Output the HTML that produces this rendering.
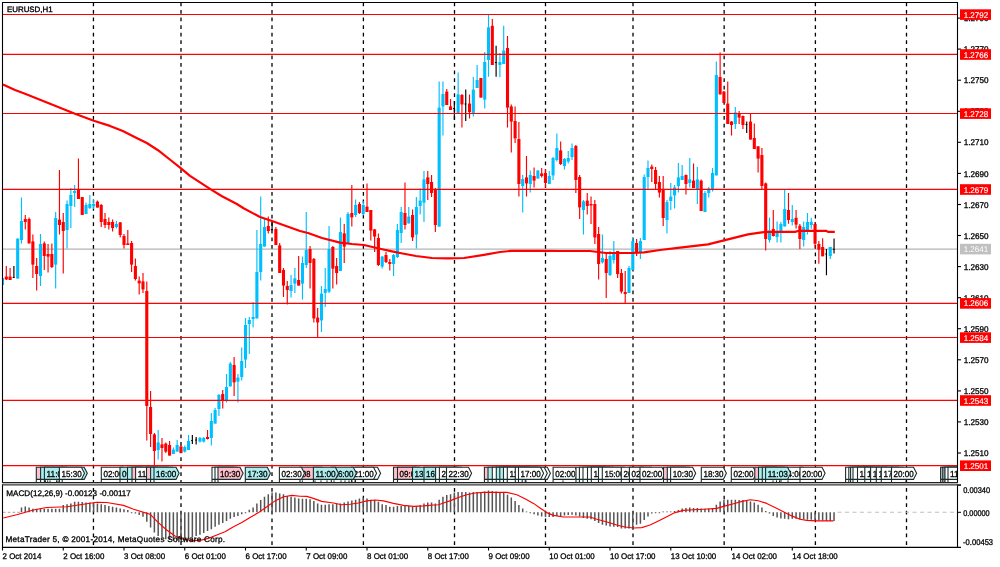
<!DOCTYPE html><html><head><meta charset="utf-8"><title>EURUSD,H1</title>
<style>html,body{margin:0;padding:0;background:#fff;}body{width:1000px;height:567px;overflow:hidden;font-family:"Liberation Sans",sans-serif;}svg{display:block;}text{font-family:"Liberation Sans",sans-serif;text-rendering:geometricPrecision;}</style></head><body>
<svg width="1000" height="567" viewBox="0 0 1000 567">
<rect x="0" y="0" width="1000" height="567" fill="#fff"/>
<filter id="nf" x="0" y="0" width="1000" height="567" filterUnits="userSpaceOnUse"><feOffset dx="0" dy="0"/></filter>
<g filter="url(#nf)">
<defs><clipPath id="cm"><rect x="3" y="3" width="954" height="479.3"/></clipPath><clipPath id="cs"><rect x="3" y="485.4" width="954" height="61.4"/></clipPath></defs>
<path d="M3 249.1H957" stroke="#b4b4b4" stroke-width="1.05"/>
<g stroke="#000" stroke-width="1.3" stroke-dasharray="3.75 3.83" fill="none">
<path clip-path="url(#cm)" d="M93.45 2.4V482"/>
<path d="M93.45 488.1V547"/>
<path clip-path="url(#cm)" d="M181 2.4V482"/>
<path d="M181 488.1V547"/>
<path clip-path="url(#cm)" d="M272 2.4V482"/>
<path d="M272 488.1V547"/>
<path clip-path="url(#cm)" d="M363.4 2.4V482"/>
<path d="M363.4 488.1V547"/>
<path clip-path="url(#cm)" d="M454.5 2.4V482"/>
<path d="M454.5 488.1V547"/>
<path clip-path="url(#cm)" d="M545.5 2.4V482"/>
<path d="M545.5 488.1V547"/>
<path clip-path="url(#cm)" d="M633 2.4V482"/>
<path d="M633 488.1V547"/>
<path clip-path="url(#cm)" d="M724.15 2.4V482"/>
<path d="M724.15 488.1V547"/>
<path clip-path="url(#cm)" d="M815.4 2.4V482"/>
<path d="M815.4 488.1V547"/>
<path clip-path="url(#cm)" d="M906.5 2.4V482"/>
<path d="M906.5 488.1V547"/>
</g>
<g clip-path="url(#cm)">
<path d="M2.5 278V285" stroke="#00bfff" stroke-width="1.15"/>
<rect x="0.95" y="278" width="3.1" height="7" fill="#00bfff"/>
<path d="M6.3 266V280" stroke="#ff0000" stroke-width="1.15"/>
<rect x="4.75" y="276.6" width="3.1" height="2.8" fill="#ff0000"/>
<path d="M10.09 268V280" stroke="#ff0000" stroke-width="1.15"/>
<rect x="8.54" y="276.6" width="3.1" height="3.4" fill="#ff0000"/>
<path d="M13.89 266V278" stroke="#000000" stroke-width="1.15"/>
<path d="M12.69 277.5H14.49" stroke="#000000" stroke-width="1"/>
<path d="M17.69 238.6V278.6" stroke="#00bfff" stroke-width="1.15"/>
<rect x="16.14" y="238.6" width="3.1" height="40" fill="#00bfff"/>
<path d="M21.48 197.6V243.4" stroke="#00bfff" stroke-width="1.15"/>
<rect x="19.93" y="221" width="3.1" height="19" fill="#00bfff"/>
<path d="M25.28 215V229.4" stroke="#ff0000" stroke-width="1.15"/>
<rect x="23.73" y="219" width="3.1" height="3" fill="#ff0000"/>
<path d="M29.08 217.6V243.4" stroke="#ff0000" stroke-width="1.15"/>
<rect x="27.53" y="219" width="3.1" height="24.4" fill="#ff0000"/>
<path d="M32.88 234.6V278" stroke="#ff0000" stroke-width="1.15"/>
<rect x="31.33" y="241.4" width="3.1" height="23.2" fill="#ff0000"/>
<path d="M36.67 258V290.6" stroke="#ff0000" stroke-width="1.15"/>
<rect x="35.12" y="266" width="3.1" height="8" fill="#ff0000"/>
<path d="M40.47 234V286" stroke="#00bfff" stroke-width="1.15"/>
<rect x="38.92" y="244" width="3.1" height="32" fill="#00bfff"/>
<path d="M44.27 241.4V270" stroke="#ff0000" stroke-width="1.15"/>
<rect x="42.72" y="243.4" width="3.1" height="12.6" fill="#ff0000"/>
<path d="M48.06 244V272.6" stroke="#ff0000" stroke-width="1.15"/>
<rect x="46.51" y="254" width="3.1" height="2.6" fill="#ff0000"/>
<path d="M51.86 243.4V268" stroke="#ff0000" stroke-width="1.15"/>
<rect x="50.31" y="254" width="3.1" height="13" fill="#ff0000"/>
<path d="M55.66 212V288.6" stroke="#00bfff" stroke-width="1.15"/>
<rect x="54.11" y="218" width="3.1" height="46.6" fill="#00bfff"/>
<path d="M59.46 170V234.6" stroke="#ff0000" stroke-width="1.15"/>
<rect x="57.91" y="219.6" width="3.1" height="5.4" fill="#ff0000"/>
<path d="M63.25 213V273.4" stroke="#ff0000" stroke-width="1.15"/>
<rect x="61.7" y="222" width="3.1" height="9" fill="#ff0000"/>
<path d="M67.05 200.4V248.6" stroke="#00bfff" stroke-width="1.15"/>
<rect x="65.5" y="204" width="3.1" height="26" fill="#00bfff"/>
<path d="M70.85 188V228" stroke="#00bfff" stroke-width="1.15"/>
<rect x="69.3" y="195" width="3.1" height="11" fill="#00bfff"/>
<path d="M74.64 185V207" stroke="#00bfff" stroke-width="1.15"/>
<rect x="73.09" y="191" width="3.1" height="2" fill="#00bfff"/>
<path d="M78.44 158.4V199" stroke="#ff0000" stroke-width="1.15"/>
<rect x="76.89" y="190" width="3.1" height="9" fill="#ff0000"/>
<path d="M82.24 197V215" stroke="#ff0000" stroke-width="1.15"/>
<rect x="80.69" y="197" width="3.1" height="18" fill="#ff0000"/>
<path d="M86.03 202.4V214" stroke="#00bfff" stroke-width="1.15"/>
<rect x="84.48" y="205" width="3.1" height="9" fill="#00bfff"/>
<path d="M89.83 195V209" stroke="#00bfff" stroke-width="1.15"/>
<rect x="88.28" y="204" width="3.1" height="4" fill="#00bfff"/>
<path d="M93.63 200V209" stroke="#00bfff" stroke-width="1.15"/>
<rect x="92.08" y="204" width="3.1" height="2.4" fill="#00bfff"/>
<path d="M97.42 200.4V207.6" stroke="#ff0000" stroke-width="1.15"/>
<rect x="95.88" y="201.6" width="3.1" height="6" fill="#ff0000"/>
<path d="M101.22 204V227" stroke="#ff0000" stroke-width="1.15"/>
<rect x="99.67" y="205" width="3.1" height="17" fill="#ff0000"/>
<path d="M105.02 213V228" stroke="#ff0000" stroke-width="1.15"/>
<rect x="103.47" y="219" width="3.1" height="6" fill="#ff0000"/>
<path d="M108.82 217.6V229.6" stroke="#ff0000" stroke-width="1.15"/>
<rect x="107.27" y="222" width="3.1" height="3" fill="#ff0000"/>
<path d="M112.61 219.6V231.6" stroke="#ff0000" stroke-width="1.15"/>
<rect x="111.06" y="222" width="3.1" height="6" fill="#ff0000"/>
<path d="M116.41 221V228.4" stroke="#00bfff" stroke-width="1.15"/>
<rect x="114.86" y="224" width="3.1" height="3" fill="#00bfff"/>
<path d="M120.21 222V237.4" stroke="#ff0000" stroke-width="1.15"/>
<rect x="118.66" y="222.4" width="3.1" height="12.6" fill="#ff0000"/>
<path d="M124 234V248.6" stroke="#ff0000" stroke-width="1.15"/>
<rect x="122.45" y="236" width="3.1" height="9" fill="#ff0000"/>
<path d="M127.8 230V245" stroke="#ff0000" stroke-width="1.15"/>
<rect x="126.25" y="243.4" width="3.1" height="1.6" fill="#ff0000"/>
<path d="M131.6 241V272" stroke="#ff0000" stroke-width="1.15"/>
<rect x="130.05" y="243" width="3.1" height="21.6" fill="#ff0000"/>
<path d="M135.4 258.6V280.6" stroke="#ff0000" stroke-width="1.15"/>
<rect x="133.84" y="266" width="3.1" height="13" fill="#ff0000"/>
<path d="M139.19 276.6V294.6" stroke="#ff0000" stroke-width="1.15"/>
<rect x="137.64" y="280.6" width="3.1" height="2.8" fill="#ff0000"/>
<path d="M142.99 273V293" stroke="#ff0000" stroke-width="1.15"/>
<rect x="141.44" y="281.4" width="3.1" height="8" fill="#ff0000"/>
<path d="M146.79 281.4V440.4" stroke="#ff0000" stroke-width="1.15"/>
<rect x="145.24" y="291" width="3.1" height="115" fill="#ff0000"/>
<path d="M150.58 391V447" stroke="#ff0000" stroke-width="1.15"/>
<rect x="149.03" y="407" width="3.1" height="27" fill="#ff0000"/>
<path d="M154.38 433V465.6" stroke="#ff0000" stroke-width="1.15"/>
<rect x="152.83" y="434.4" width="3.1" height="16.6" fill="#ff0000"/>
<path d="M158.18 430V459.6" stroke="#00bfff" stroke-width="1.15"/>
<rect x="156.63" y="442.4" width="3.1" height="7.6" fill="#00bfff"/>
<path d="M161.97 438V461.6" stroke="#ff0000" stroke-width="1.15"/>
<rect x="160.42" y="444.4" width="3.1" height="3.6" fill="#ff0000"/>
<path d="M165.77 442.4V453" stroke="#ff0000" stroke-width="1.15"/>
<rect x="164.22" y="443.6" width="3.1" height="8" fill="#ff0000"/>
<path d="M169.57 441V455.6" stroke="#ff0000" stroke-width="1.15"/>
<rect x="168.02" y="445" width="3.1" height="10.6" fill="#ff0000"/>
<path d="M173.37 447.6V454" stroke="#00bfff" stroke-width="1.15"/>
<rect x="171.81" y="449.6" width="3.1" height="4.4" fill="#00bfff"/>
<path d="M177.16 440V451.6" stroke="#00bfff" stroke-width="1.15"/>
<rect x="175.61" y="445" width="3.1" height="6.6" fill="#00bfff"/>
<path d="M180.96 444.4V453" stroke="#ff0000" stroke-width="1.15"/>
<rect x="179.41" y="446.4" width="3.1" height="6.6" fill="#ff0000"/>
<path d="M184.76 445.6V452.4" stroke="#00bfff" stroke-width="1.15"/>
<rect x="183.21" y="447" width="3.1" height="4.6" fill="#00bfff"/>
<path d="M188.55 435V450" stroke="#00bfff" stroke-width="1.15"/>
<rect x="187" y="441" width="3.1" height="9" fill="#00bfff"/>
<path d="M192.35 435V444" stroke="#000000" stroke-width="1.15"/>
<path d="M191.15 440.5H192.95" stroke="#000000" stroke-width="1"/>
<path d="M196.15 437V444.4" stroke="#000000" stroke-width="1.15"/>
<path d="M194.95 440H196.75" stroke="#000000" stroke-width="1"/>
<path d="M199.94 437V442.4" stroke="#00bfff" stroke-width="1.15"/>
<rect x="198.39" y="438" width="3.1" height="3.6" fill="#00bfff"/>
<path d="M203.74 437V442.4" stroke="#00bfff" stroke-width="1.15"/>
<rect x="202.19" y="438" width="3.1" height="3.6" fill="#00bfff"/>
<path d="M207.54 430V439.6" stroke="#ff0000" stroke-width="1.15"/>
<rect x="205.99" y="437" width="3.1" height="2" fill="#ff0000"/>
<path d="M211.34 413V445.6" stroke="#00bfff" stroke-width="1.15"/>
<rect x="209.78" y="421" width="3.1" height="17" fill="#00bfff"/>
<path d="M215.13 408V423.6" stroke="#00bfff" stroke-width="1.15"/>
<rect x="213.58" y="410" width="3.1" height="13.6" fill="#00bfff"/>
<path d="M218.93 394V416" stroke="#00bfff" stroke-width="1.15"/>
<rect x="217.38" y="395" width="3.1" height="14" fill="#00bfff"/>
<path d="M222.73 390V408.4" stroke="#ff0000" stroke-width="1.15"/>
<rect x="221.18" y="394" width="3.1" height="6.4" fill="#ff0000"/>
<path d="M226.52 374V402.4" stroke="#00bfff" stroke-width="1.15"/>
<rect x="224.97" y="387" width="3.1" height="14" fill="#00bfff"/>
<path d="M230.32 362V386.4" stroke="#00bfff" stroke-width="1.15"/>
<rect x="228.77" y="363.6" width="3.1" height="22.8" fill="#00bfff"/>
<path d="M234.12 357V396" stroke="#ff0000" stroke-width="1.15"/>
<rect x="232.57" y="365" width="3.1" height="17.4" fill="#ff0000"/>
<path d="M237.91 374V402.4" stroke="#00bfff" stroke-width="1.15"/>
<rect x="236.36" y="377.6" width="3.1" height="4" fill="#00bfff"/>
<path d="M241.71 347.6V380.6" stroke="#00bfff" stroke-width="1.15"/>
<rect x="240.16" y="361" width="3.1" height="16" fill="#00bfff"/>
<path d="M245.51 318V368" stroke="#00bfff" stroke-width="1.15"/>
<rect x="243.96" y="325" width="3.1" height="34.6" fill="#00bfff"/>
<path d="M249.31 317V354" stroke="#00bfff" stroke-width="1.15"/>
<rect x="247.75" y="320" width="3.1" height="4" fill="#00bfff"/>
<path d="M253.1 302V327.6" stroke="#00bfff" stroke-width="1.15"/>
<rect x="251.55" y="317" width="3.1" height="2" fill="#00bfff"/>
<path d="M256.9 230V318.4" stroke="#00bfff" stroke-width="1.15"/>
<rect x="255.35" y="272" width="3.1" height="46.4" fill="#00bfff"/>
<path d="M260.7 196.6V280.6" stroke="#00bfff" stroke-width="1.15"/>
<rect x="259.15" y="244" width="3.1" height="28" fill="#00bfff"/>
<path d="M264.49 218V246.6" stroke="#00bfff" stroke-width="1.15"/>
<rect x="262.94" y="227" width="3.1" height="19.6" fill="#00bfff"/>
<path d="M268.29 216.6V233.4" stroke="#ff0000" stroke-width="1.15"/>
<rect x="266.74" y="226" width="3.1" height="5" fill="#ff0000"/>
<path d="M272.09 222V230.5" stroke="#000000" stroke-width="1.15"/>
<path d="M270.89 229.5H272.69" stroke="#000000" stroke-width="1"/>
<path d="M275.88 227V245" stroke="#ff0000" stroke-width="1.15"/>
<rect x="274.33" y="229" width="3.1" height="16" fill="#ff0000"/>
<path d="M279.68 243V273" stroke="#ff0000" stroke-width="1.15"/>
<rect x="278.13" y="245.4" width="3.1" height="27.6" fill="#ff0000"/>
<path d="M283.48 268V297" stroke="#ff0000" stroke-width="1.15"/>
<rect x="281.93" y="270" width="3.1" height="15.6" fill="#ff0000"/>
<path d="M287.28 281V304.4" stroke="#ff0000" stroke-width="1.15"/>
<rect x="285.73" y="286" width="3.1" height="4" fill="#ff0000"/>
<path d="M291.07 275V297.6" stroke="#00bfff" stroke-width="1.15"/>
<rect x="289.52" y="285" width="3.1" height="6" fill="#00bfff"/>
<path d="M294.87 268V293" stroke="#00bfff" stroke-width="1.15"/>
<rect x="293.32" y="278.4" width="3.1" height="5.2" fill="#00bfff"/>
<path d="M298.67 256V285.6" stroke="#ff0000" stroke-width="1.15"/>
<rect x="297.12" y="280" width="3.1" height="5.6" fill="#ff0000"/>
<path d="M302.46 256.6V299.6" stroke="#00bfff" stroke-width="1.15"/>
<rect x="300.91" y="263" width="3.1" height="20.6" fill="#00bfff"/>
<path d="M306.26 212V268" stroke="#00bfff" stroke-width="1.15"/>
<rect x="304.71" y="250" width="3.1" height="15" fill="#00bfff"/>
<path d="M310.06 246V288.4" stroke="#ff0000" stroke-width="1.15"/>
<rect x="308.51" y="249" width="3.1" height="14" fill="#ff0000"/>
<path d="M313.85 258V322.4" stroke="#ff0000" stroke-width="1.15"/>
<rect x="312.3" y="259" width="3.1" height="59.4" fill="#ff0000"/>
<path d="M317.65 308V337.6" stroke="#ff0000" stroke-width="1.15"/>
<rect x="316.1" y="317.6" width="3.1" height="4.8" fill="#ff0000"/>
<path d="M321.45 286V332" stroke="#00bfff" stroke-width="1.15"/>
<rect x="319.9" y="293.6" width="3.1" height="26.8" fill="#00bfff"/>
<path d="M325.25 268V307" stroke="#00bfff" stroke-width="1.15"/>
<rect x="323.69" y="289" width="3.1" height="4" fill="#00bfff"/>
<path d="M329.04 226V293" stroke="#00bfff" stroke-width="1.15"/>
<rect x="327.49" y="249" width="3.1" height="42.6" fill="#00bfff"/>
<path d="M332.84 246V288.4" stroke="#ff0000" stroke-width="1.15"/>
<rect x="331.29" y="247" width="3.1" height="21.6" fill="#ff0000"/>
<path d="M336.64 258V284.6" stroke="#ff0000" stroke-width="1.15"/>
<rect x="335.09" y="266" width="3.1" height="7" fill="#ff0000"/>
<path d="M340.43 217.4V271" stroke="#00bfff" stroke-width="1.15"/>
<rect x="338.88" y="232" width="3.1" height="39" fill="#00bfff"/>
<path d="M344.23 224V263" stroke="#ff0000" stroke-width="1.15"/>
<rect x="342.68" y="233.4" width="3.1" height="13.2" fill="#ff0000"/>
<path d="M348.03 212V243" stroke="#00bfff" stroke-width="1.15"/>
<rect x="346.48" y="214" width="3.1" height="29" fill="#00bfff"/>
<path d="M351.82 185V226.6" stroke="#ff0000" stroke-width="1.15"/>
<rect x="350.27" y="213" width="3.1" height="4.4" fill="#ff0000"/>
<path d="M355.62 199.4V217" stroke="#00bfff" stroke-width="1.15"/>
<rect x="354.07" y="205" width="3.1" height="10" fill="#00bfff"/>
<path d="M359.42 202V214" stroke="#ff0000" stroke-width="1.15"/>
<rect x="357.87" y="204" width="3.1" height="9" fill="#ff0000"/>
<path d="M363.22 201V215.5" stroke="#00bfff" stroke-width="1.15"/>
<rect x="361.67" y="205" width="3.1" height="9" fill="#00bfff"/>
<path d="M367.01 183.4V212" stroke="#ff0000" stroke-width="1.15"/>
<rect x="365.46" y="206.6" width="3.1" height="5.4" fill="#ff0000"/>
<path d="M370.81 210V240.6" stroke="#ff0000" stroke-width="1.15"/>
<rect x="369.26" y="210" width="3.1" height="20.6" fill="#ff0000"/>
<path d="M374.61 229V252" stroke="#ff0000" stroke-width="1.15"/>
<rect x="373.06" y="229.4" width="3.1" height="7.2" fill="#ff0000"/>
<path d="M378.4 233.4V266" stroke="#ff0000" stroke-width="1.15"/>
<rect x="376.85" y="238" width="3.1" height="27" fill="#ff0000"/>
<path d="M382.2 256V268.6" stroke="#00bfff" stroke-width="1.15"/>
<rect x="380.65" y="256.6" width="3.1" height="10" fill="#00bfff"/>
<path d="M386 252V263" stroke="#ff0000" stroke-width="1.15"/>
<rect x="384.45" y="255" width="3.1" height="7" fill="#ff0000"/>
<path d="M389.79 259V270.6" stroke="#ff0000" stroke-width="1.15"/>
<rect x="388.24" y="262" width="3.1" height="2" fill="#ff0000"/>
<path d="M393.59 254V276" stroke="#00bfff" stroke-width="1.15"/>
<rect x="392.04" y="255" width="3.1" height="9" fill="#00bfff"/>
<path d="M397.39 224V258" stroke="#00bfff" stroke-width="1.15"/>
<rect x="395.84" y="230" width="3.1" height="27" fill="#00bfff"/>
<path d="M401.19 207V243" stroke="#00bfff" stroke-width="1.15"/>
<rect x="399.63" y="212" width="3.1" height="21" fill="#00bfff"/>
<path d="M404.98 182.6V229.4" stroke="#ff0000" stroke-width="1.15"/>
<rect x="403.43" y="213" width="3.1" height="12" fill="#ff0000"/>
<path d="M408.78 207V223.4" stroke="#00bfff" stroke-width="1.15"/>
<rect x="407.23" y="216.6" width="3.1" height="6.8" fill="#00bfff"/>
<path d="M412.58 209.4V241" stroke="#ff0000" stroke-width="1.15"/>
<rect x="411.03" y="215" width="3.1" height="22.4" fill="#ff0000"/>
<path d="M416.37 197V248.6" stroke="#00bfff" stroke-width="1.15"/>
<rect x="414.82" y="207" width="3.1" height="27.6" fill="#00bfff"/>
<path d="M420.17 188.6V214.6" stroke="#00bfff" stroke-width="1.15"/>
<rect x="418.62" y="200.6" width="3.1" height="5.4" fill="#00bfff"/>
<path d="M423.97 171V222" stroke="#00bfff" stroke-width="1.15"/>
<rect x="422.42" y="179.4" width="3.1" height="23.2" fill="#00bfff"/>
<path d="M427.76 171V200" stroke="#ff0000" stroke-width="1.15"/>
<rect x="426.21" y="177.4" width="3.1" height="6.6" fill="#ff0000"/>
<path d="M431.56 175V197" stroke="#ff0000" stroke-width="1.15"/>
<rect x="430.01" y="182" width="3.1" height="11" fill="#ff0000"/>
<path d="M435.36 188V232" stroke="#ff0000" stroke-width="1.15"/>
<rect x="433.81" y="189" width="3.1" height="36" fill="#ff0000"/>
<path d="M439.16 81.6V226.6" stroke="#00bfff" stroke-width="1.15"/>
<rect x="437.61" y="107.6" width="3.1" height="119" fill="#00bfff"/>
<path d="M442.95 81.6V135.6" stroke="#00bfff" stroke-width="1.15"/>
<rect x="441.4" y="94" width="3.1" height="12.4" fill="#00bfff"/>
<path d="M446.75 89V105" stroke="#ff0000" stroke-width="1.15"/>
<rect x="445.2" y="91.6" width="3.1" height="13.4" fill="#ff0000"/>
<path d="M450.55 99V110" stroke="#ff0000" stroke-width="1.15"/>
<rect x="449" y="106.4" width="3.1" height="3.6" fill="#ff0000"/>
<path d="M454.34 101V120" stroke="#000000" stroke-width="1.15"/>
<path d="M453.14 108.5H454.94" stroke="#000000" stroke-width="1"/>
<path d="M458.14 72.4V113.6" stroke="#00bfff" stroke-width="1.15"/>
<rect x="456.59" y="94.4" width="3.1" height="19.2" fill="#00bfff"/>
<path d="M461.94 94V127.6" stroke="#ff0000" stroke-width="1.15"/>
<rect x="460.39" y="95" width="3.1" height="9.4" fill="#ff0000"/>
<path d="M465.73 89.6V121" stroke="#000000" stroke-width="1.15"/>
<path d="M464.53 104H466.33" stroke="#000000" stroke-width="1"/>
<path d="M469.53 94.4V118.4" stroke="#ff0000" stroke-width="1.15"/>
<rect x="467.98" y="103.6" width="3.1" height="8.4" fill="#ff0000"/>
<path d="M473.33 77V116.4" stroke="#00bfff" stroke-width="1.15"/>
<rect x="471.78" y="89.6" width="3.1" height="24" fill="#00bfff"/>
<path d="M477.12 65V88" stroke="#00bfff" stroke-width="1.15"/>
<rect x="475.57" y="80" width="3.1" height="8" fill="#00bfff"/>
<path d="M480.92 78V97.6" stroke="#ff0000" stroke-width="1.15"/>
<rect x="479.37" y="78" width="3.1" height="19.6" fill="#ff0000"/>
<path d="M484.72 52V108.4" stroke="#00bfff" stroke-width="1.15"/>
<rect x="483.17" y="62" width="3.1" height="37.6" fill="#00bfff"/>
<path d="M488.52 15V76.7" stroke="#00bfff" stroke-width="1.15"/>
<rect x="486.97" y="27.4" width="3.1" height="32.6" fill="#00bfff"/>
<path d="M492.31 19V65" stroke="#ff0000" stroke-width="1.15"/>
<rect x="490.76" y="25.8" width="3.1" height="39.2" fill="#ff0000"/>
<path d="M496.11 45.8V76.7" stroke="#000000" stroke-width="1.15"/>
<path d="M494.91 62.5H496.71" stroke="#000000" stroke-width="1"/>
<path d="M499.91 53V77.3" stroke="#00bfff" stroke-width="1.15"/>
<rect x="498.36" y="62" width="3.1" height="3" fill="#00bfff"/>
<path d="M503.7 25.8V64" stroke="#00bfff" stroke-width="1.15"/>
<rect x="502.15" y="50.6" width="3.1" height="13.4" fill="#00bfff"/>
<path d="M507.5 36V127.6" stroke="#ff0000" stroke-width="1.15"/>
<rect x="505.95" y="48" width="3.1" height="59.6" fill="#ff0000"/>
<path d="M511.3 104.4V152.4" stroke="#ff0000" stroke-width="1.15"/>
<rect x="509.75" y="106.4" width="3.1" height="15.2" fill="#ff0000"/>
<path d="M515.1 106.4V143" stroke="#ff0000" stroke-width="1.15"/>
<rect x="513.55" y="121" width="3.1" height="17.4" fill="#ff0000"/>
<path d="M518.89 122V196.6" stroke="#ff0000" stroke-width="1.15"/>
<rect x="517.34" y="139" width="3.1" height="45" fill="#ff0000"/>
<path d="M522.69 175V212.6" stroke="#00bfff" stroke-width="1.15"/>
<rect x="521.14" y="179" width="3.1" height="7" fill="#00bfff"/>
<path d="M526.49 156V196.6" stroke="#ff0000" stroke-width="1.15"/>
<rect x="524.94" y="177.4" width="3.1" height="6" fill="#ff0000"/>
<path d="M530.28 170.6V192.6" stroke="#00bfff" stroke-width="1.15"/>
<rect x="528.73" y="175" width="3.1" height="9" fill="#00bfff"/>
<path d="M534.08 167.4V187.4" stroke="#ff0000" stroke-width="1.15"/>
<rect x="532.53" y="176" width="3.1" height="4.6" fill="#ff0000"/>
<path d="M537.88 170V178.6" stroke="#00bfff" stroke-width="1.15"/>
<rect x="536.33" y="170.6" width="3.1" height="8" fill="#00bfff"/>
<path d="M541.67 168V177.4" stroke="#ff0000" stroke-width="1.15"/>
<rect x="540.12" y="173.4" width="3.1" height="2.6" fill="#ff0000"/>
<path d="M545.47 169V187.4" stroke="#ff0000" stroke-width="1.15"/>
<rect x="543.92" y="173" width="3.1" height="10" fill="#ff0000"/>
<path d="M549.27 171V184" stroke="#00bfff" stroke-width="1.15"/>
<rect x="547.72" y="176" width="3.1" height="8" fill="#00bfff"/>
<path d="M553.07 157V180" stroke="#00bfff" stroke-width="1.15"/>
<rect x="551.52" y="158" width="3.1" height="17.4" fill="#00bfff"/>
<path d="M556.86 133.6V161.6" stroke="#00bfff" stroke-width="1.15"/>
<rect x="555.31" y="148" width="3.1" height="12" fill="#00bfff"/>
<path d="M560.66 141.6V165" stroke="#ff0000" stroke-width="1.15"/>
<rect x="559.11" y="150.4" width="3.1" height="13.6" fill="#ff0000"/>
<path d="M564.46 158V169.6" stroke="#00bfff" stroke-width="1.15"/>
<rect x="562.91" y="159" width="3.1" height="7" fill="#00bfff"/>
<path d="M568.25 151V163.6" stroke="#00bfff" stroke-width="1.15"/>
<rect x="566.7" y="158" width="3.1" height="3.6" fill="#00bfff"/>
<path d="M572.05 143.6V160" stroke="#00bfff" stroke-width="1.15"/>
<rect x="570.5" y="148" width="3.1" height="9" fill="#00bfff"/>
<path d="M575.85 145V193" stroke="#ff0000" stroke-width="1.15"/>
<rect x="574.3" y="146" width="3.1" height="34" fill="#ff0000"/>
<path d="M579.64 175V219" stroke="#ff0000" stroke-width="1.15"/>
<rect x="578.09" y="177" width="3.1" height="30.4" fill="#ff0000"/>
<path d="M583.44 200V234.6" stroke="#00bfff" stroke-width="1.15"/>
<rect x="581.89" y="201.4" width="3.1" height="8.6" fill="#00bfff"/>
<path d="M587.24 193V214.6" stroke="#ff0000" stroke-width="1.15"/>
<rect x="585.69" y="200.6" width="3.1" height="5.4" fill="#ff0000"/>
<path d="M591.03 196.6V224" stroke="#ff0000" stroke-width="1.15"/>
<rect x="589.49" y="204" width="3.1" height="1.4" fill="#ff0000"/>
<path d="M594.83 200V244" stroke="#ff0000" stroke-width="1.15"/>
<rect x="593.28" y="204" width="3.1" height="33.4" fill="#ff0000"/>
<path d="M598.63 227V279.6" stroke="#ff0000" stroke-width="1.15"/>
<rect x="597.08" y="234" width="3.1" height="30" fill="#ff0000"/>
<path d="M602.43 234.4V263.6" stroke="#00bfff" stroke-width="1.15"/>
<rect x="600.88" y="258" width="3.1" height="4.4" fill="#00bfff"/>
<path d="M606.22 253V298" stroke="#ff0000" stroke-width="1.15"/>
<rect x="604.67" y="259" width="3.1" height="14" fill="#ff0000"/>
<path d="M610.02 251V276" stroke="#00bfff" stroke-width="1.15"/>
<rect x="608.47" y="256" width="3.1" height="19" fill="#00bfff"/>
<path d="M613.82 241V263.6" stroke="#00bfff" stroke-width="1.15"/>
<rect x="612.27" y="252.4" width="3.1" height="7.6" fill="#00bfff"/>
<path d="M617.61 251V278" stroke="#ff0000" stroke-width="1.15"/>
<rect x="616.06" y="251" width="3.1" height="23" fill="#ff0000"/>
<path d="M621.41 269V293.6" stroke="#ff0000" stroke-width="1.15"/>
<rect x="619.86" y="273" width="3.1" height="18.6" fill="#ff0000"/>
<path d="M625.21 271V303.4" stroke="#ff0000" stroke-width="1.15"/>
<rect x="623.66" y="292" width="3.1" height="2" fill="#ff0000"/>
<path d="M629 266V293" stroke="#00bfff" stroke-width="1.15"/>
<rect x="627.46" y="268" width="3.1" height="25" fill="#00bfff"/>
<path d="M632.8 238V270" stroke="#00bfff" stroke-width="1.15"/>
<rect x="631.25" y="241" width="3.1" height="29" fill="#00bfff"/>
<path d="M636.6 239V256" stroke="#ff0000" stroke-width="1.15"/>
<rect x="635.05" y="243" width="3.1" height="9" fill="#ff0000"/>
<path d="M640.4 238V259" stroke="#00bfff" stroke-width="1.15"/>
<rect x="638.85" y="241" width="3.1" height="11" fill="#00bfff"/>
<path d="M644.19 174.6V240" stroke="#00bfff" stroke-width="1.15"/>
<rect x="642.64" y="177" width="3.1" height="63" fill="#00bfff"/>
<path d="M647.99 160.6V189" stroke="#00bfff" stroke-width="1.15"/>
<rect x="646.44" y="168" width="3.1" height="9" fill="#00bfff"/>
<path d="M651.79 164.6V182" stroke="#ff0000" stroke-width="1.15"/>
<rect x="650.24" y="166.6" width="3.1" height="2.4" fill="#ff0000"/>
<path d="M655.58 167V189" stroke="#ff0000" stroke-width="1.15"/>
<rect x="654.03" y="170" width="3.1" height="14" fill="#ff0000"/>
<path d="M659.38 176V197.4" stroke="#ff0000" stroke-width="1.15"/>
<rect x="657.83" y="182" width="3.1" height="10.6" fill="#ff0000"/>
<path d="M663.18 176V226" stroke="#ff0000" stroke-width="1.15"/>
<rect x="661.63" y="189.4" width="3.1" height="28.6" fill="#ff0000"/>
<path d="M666.98 200V233.4" stroke="#00bfff" stroke-width="1.15"/>
<rect x="665.43" y="202" width="3.1" height="18" fill="#00bfff"/>
<path d="M670.77 183V210" stroke="#00bfff" stroke-width="1.15"/>
<rect x="669.22" y="196.6" width="3.1" height="4.4" fill="#00bfff"/>
<path d="M674.57 185V208.6" stroke="#00bfff" stroke-width="1.15"/>
<rect x="673.02" y="187.4" width="3.1" height="8" fill="#00bfff"/>
<path d="M678.37 163V192.6" stroke="#00bfff" stroke-width="1.15"/>
<rect x="676.82" y="177.4" width="3.1" height="8.6" fill="#00bfff"/>
<path d="M682.16 165V180" stroke="#00bfff" stroke-width="1.15"/>
<rect x="680.61" y="176" width="3.1" height="4" fill="#00bfff"/>
<path d="M685.96 174.6V194.6" stroke="#ff0000" stroke-width="1.15"/>
<rect x="684.41" y="175" width="3.1" height="9" fill="#ff0000"/>
<path d="M689.76 158V187.4" stroke="#00bfff" stroke-width="1.15"/>
<rect x="688.21" y="179.4" width="3.1" height="3.6" fill="#00bfff"/>
<path d="M693.55 163.4V188" stroke="#ff0000" stroke-width="1.15"/>
<rect x="692" y="180.6" width="3.1" height="7.4" fill="#ff0000"/>
<path d="M697.35 167V204" stroke="#00bfff" stroke-width="1.15"/>
<rect x="695.8" y="179.4" width="3.1" height="9.6" fill="#00bfff"/>
<path d="M701.15 179.4V211" stroke="#ff0000" stroke-width="1.15"/>
<rect x="699.6" y="180.6" width="3.1" height="30.4" fill="#ff0000"/>
<path d="M704.95 191V212" stroke="#00bfff" stroke-width="1.15"/>
<rect x="703.4" y="193" width="3.1" height="19" fill="#00bfff"/>
<path d="M708.74 187V197.4" stroke="#00bfff" stroke-width="1.15"/>
<rect x="707.19" y="188.6" width="3.1" height="4.4" fill="#00bfff"/>
<path d="M712.54 168V191.4" stroke="#00bfff" stroke-width="1.15"/>
<rect x="710.99" y="173" width="3.1" height="17" fill="#00bfff"/>
<path d="M716.34 61.6V175.4" stroke="#00bfff" stroke-width="1.15"/>
<rect x="714.79" y="75" width="3.1" height="100.4" fill="#00bfff"/>
<path d="M720.13 52.4V94.4" stroke="#ff0000" stroke-width="1.15"/>
<rect x="718.58" y="77" width="3.1" height="17.4" fill="#ff0000"/>
<path d="M723.93 91V103" stroke="#ff0000" stroke-width="1.15"/>
<rect x="722.38" y="91.6" width="3.1" height="11.4" fill="#ff0000"/>
<path d="M727.73 81.6V124" stroke="#ff0000" stroke-width="1.15"/>
<rect x="726.18" y="103.6" width="3.1" height="20.4" fill="#ff0000"/>
<path d="M731.52 121V135.6" stroke="#ff0000" stroke-width="1.15"/>
<rect x="729.97" y="121.6" width="3.1" height="3.4" fill="#ff0000"/>
<path d="M735.32 107V129" stroke="#00bfff" stroke-width="1.15"/>
<rect x="733.77" y="112.4" width="3.1" height="11.6" fill="#00bfff"/>
<path d="M739.12 111V124" stroke="#ff0000" stroke-width="1.15"/>
<rect x="737.57" y="113" width="3.1" height="4.6" fill="#ff0000"/>
<path d="M742.92 115.6V129" stroke="#ff0000" stroke-width="1.15"/>
<rect x="741.37" y="116" width="3.1" height="9" fill="#ff0000"/>
<path d="M746.71 121.6V133" stroke="#000000" stroke-width="1.15"/>
<path d="M745.51 124.5H747.31" stroke="#000000" stroke-width="1"/>
<path d="M750.51 113.6V139.6" stroke="#ff0000" stroke-width="1.15"/>
<rect x="748.96" y="121.6" width="3.1" height="18" fill="#ff0000"/>
<path d="M754.31 123.6V149" stroke="#ff0000" stroke-width="1.15"/>
<rect x="752.76" y="138" width="3.1" height="11" fill="#ff0000"/>
<path d="M758.1 146V172.6" stroke="#ff0000" stroke-width="1.15"/>
<rect x="756.55" y="146.4" width="3.1" height="12.2" fill="#ff0000"/>
<path d="M761.9 148V189" stroke="#ff0000" stroke-width="1.15"/>
<rect x="760.35" y="155" width="3.1" height="31" fill="#ff0000"/>
<path d="M765.7 182.6V250.4" stroke="#ff0000" stroke-width="1.15"/>
<rect x="764.15" y="183.4" width="3.1" height="55.6" fill="#ff0000"/>
<path d="M769.49 217.4V242.6" stroke="#00bfff" stroke-width="1.15"/>
<rect x="767.94" y="230.6" width="3.1" height="9.4" fill="#00bfff"/>
<path d="M773.29 210V236.6" stroke="#ff0000" stroke-width="1.15"/>
<rect x="771.74" y="229" width="3.1" height="7" fill="#ff0000"/>
<path d="M777.09 221.4V242.6" stroke="#00bfff" stroke-width="1.15"/>
<rect x="775.54" y="231" width="3.1" height="6" fill="#00bfff"/>
<path d="M780.88 222V242.6" stroke="#00bfff" stroke-width="1.15"/>
<rect x="779.34" y="224" width="3.1" height="7.4" fill="#00bfff"/>
<path d="M784.68 189.4V226.4" stroke="#00bfff" stroke-width="1.15"/>
<rect x="783.13" y="209" width="3.1" height="17.4" fill="#00bfff"/>
<path d="M788.48 193V223.8" stroke="#ff0000" stroke-width="1.15"/>
<rect x="786.93" y="210" width="3.1" height="10" fill="#ff0000"/>
<path d="M792.28 205V225.4" stroke="#00bfff" stroke-width="1.15"/>
<rect x="790.73" y="219" width="3.1" height="3" fill="#00bfff"/>
<path d="M796.07 210V228.6" stroke="#ff0000" stroke-width="1.15"/>
<rect x="794.52" y="217.8" width="3.1" height="6.8" fill="#ff0000"/>
<path d="M799.87 224V249" stroke="#ff0000" stroke-width="1.15"/>
<rect x="798.32" y="225.8" width="3.1" height="13.2" fill="#ff0000"/>
<path d="M803.67 221.4V246.6" stroke="#00bfff" stroke-width="1.15"/>
<rect x="802.12" y="227" width="3.1" height="13" fill="#00bfff"/>
<path d="M807.46 213V234.6" stroke="#00bfff" stroke-width="1.15"/>
<rect x="805.91" y="222" width="3.1" height="8" fill="#00bfff"/>
<path d="M811.26 217.8V228.8" stroke="#00bfff" stroke-width="1.15"/>
<rect x="809.71" y="221.8" width="3.1" height="3.2" fill="#00bfff"/>
<path d="M815.06 222V248.6" stroke="#ff0000" stroke-width="1.15"/>
<rect x="813.51" y="224" width="3.1" height="19.8" fill="#ff0000"/>
<path d="M818.86 241V263.7" stroke="#ff0000" stroke-width="1.15"/>
<rect x="817.31" y="244" width="3.1" height="5.6" fill="#ff0000"/>
<path d="M822.65 238.2V256.3" stroke="#ff0000" stroke-width="1.15"/>
<rect x="821.1" y="247" width="3.1" height="9.3" fill="#ff0000"/>
<path d="M826.45 248.9V275.2" stroke="#000000" stroke-width="1.15"/>
<path d="M825.25 254H827.05" stroke="#000000" stroke-width="1"/>
<path d="M830.25 247V259" stroke="#00bfff" stroke-width="1.15"/>
<rect x="828.7" y="247" width="3.1" height="9" fill="#00bfff"/>
<path d="M834.04 238.5V253.6" stroke="#000000" stroke-width="1.15"/>
<path d="M832.84 249.3H834.64" stroke="#000000" stroke-width="1"/>
</g>
<g stroke="#ff0000" stroke-width="1.15">
<path d="M3 14.5H957"/>
<path d="M3 54.4H957"/>
<path d="M3 113.5H957"/>
<path d="M3 189.4H957"/>
<path d="M3 303.3H957"/>
<path d="M3 337.5H957"/>
<path d="M3 400.4H957"/>
<path d="M3 465.6H957"/>
</g>
<path clip-path="url(#cm)" d="M3 84.5 L15 90 L25 93.75 L37.5 98.75 L50 103.75 L62.5 108.75 L75 113.75 L93.75 120.75 L110 125.9 L122.8 131 L135.6 137.4 L146.8 143 L158 150.2 L169.2 159 L180.4 167.8 L190 175.8 L199.6 182.2 L210.8 189.4 L222 196.3 L236.4 203.8 L244 208.5 L260 217 L272 221 L286 226 L300 231 L308 233 L322 238 L340 242.6 L352 244 L364 245 L380 248.8 L392 251.4 L400 253 L416 256 L432 258 L448 258.3 L464 258 L484 254.8 L500 252 L512 250.8 L540 250.8 L560 251 L590 251 L606 253 L632 253 L644 252.4 L660 250 L680 247.6 L708 244.4 L724 240.4 L748 234.4 L760 232.6 L766 231.9 L795 231.9 L799 230.8 L826 230.8 L828 231.9 L834.8 231.9" fill="none" stroke="#ff0000" stroke-width="2.2" stroke-linejoin="round"/>
<g clip-path="url(#cm)" font-size="8.8">
<g stroke="#1c2c2c" stroke-width="1">
<path d="M302.3 480.3V482.5"/>
<path d="M45.5 480.3V482.5"/>
<path d="M47.7 480.3V482.5"/>
<path d="M50 480.3V482.5"/>
<path d="M56.5 480.3V482.5"/>
<path d="M58 480.3V482.5"/>
<path d="M315 480.3V482.5"/>
<path d="M321 480.3V482.5"/>
<path d="M327 480.3V482.5"/>
<path d="M334 480.3V482.5"/>
<path d="M341 480.3V482.5"/>
<path d="M345 480.3V482.5"/>
<path d="M349 480.3V482.5"/>
<path d="M352 480.3V482.5"/>
<path d="M355 480.3V482.5"/>
<path d="M363 480.3V482.5"/>
<path d="M456 480.3V482.5"/>
<path d="M526 480.3V482.5"/>
<path d="M563 480.3V482.5"/>
<path d="M632.5 480.3V482.5"/>
<path d="M773 480.3V482.5"/>
<path d="M776.5 480.3V482.5"/>
<path d="M779.5 480.3V482.5"/>
<path d="M788 480.3V482.5"/>
<path d="M906 480.3V482.5"/>
</g>
<path d="M36.3 482.3V467.3H58.3L61.4 473.35L58.3 479.4H36.3" fill="#ffc0cb" stroke="#1a2e2e" stroke-width="1.1" stroke-linejoin="miter"/>
<path d="M40.6 482.3V467.3H62.6L65.7 473.35L62.6 479.4H40.6" fill="#afeeee" stroke="#1a2e2e" stroke-width="1.1" stroke-linejoin="miter"/>
<path d="M44.4 482.3V467.3H66.4L69.5 473.35L66.4 479.4H44.4" fill="#afeeee" stroke="#1a2e2e" stroke-width="1.1" stroke-linejoin="miter"/>
<text x="46.5" y="476.6" fill="#000" stroke="#000" stroke-width="0.3" textLength="20.2" lengthAdjust="spacingAndGlyphs">11:00</text>
<path d="M62.2 482.3V467.3H84.2L87.3 473.35L84.2 479.4H62.2" fill="#afeeee" stroke="#1a2e2e" stroke-width="1.1" stroke-linejoin="miter"/>
<path d="M59.4 482.3V467.3H81.4L84.5 473.35L81.4 479.4H59.4" fill="#ffffff" stroke="#1a2e2e" stroke-width="1.1" stroke-linejoin="miter"/>
<text x="61.5" y="476.6" fill="#000" stroke="#000" stroke-width="0.3" textLength="20.2" lengthAdjust="spacingAndGlyphs">15:30</text>
<path d="M101.3 482.3V467.3H123.3L126.4 473.35L123.3 479.4H101.3" fill="#ffffff" stroke="#1a2e2e" stroke-width="1.1" stroke-linejoin="miter"/>
<text x="103.4" y="476.6" fill="#000" stroke="#000" stroke-width="0.3" textLength="20.2" lengthAdjust="spacingAndGlyphs">02:00</text>
<path d="M120 482.3V467.3H142L145.1 473.35L142 479.4H120" fill="#afeeee" stroke="#1a2e2e" stroke-width="1.1" stroke-linejoin="miter"/>
<text x="122.1" y="476.6" fill="#000" stroke="#000" stroke-width="0.3" textLength="20.2" lengthAdjust="spacingAndGlyphs">09:00</text>
<path d="M127.5 482.3V467.3H149.5L152.6 473.35L149.5 479.4H127.5" fill="#afeeee" stroke="#1a2e2e" stroke-width="1.1" stroke-linejoin="miter"/>
<path d="M132 482.3V467.3H154L157.1 473.35L154 479.4H132" fill="#ffc0cb" stroke="#1a2e2e" stroke-width="1.1" stroke-linejoin="miter"/>
<path d="M135.6 482.3V467.3H157.6L160.7 473.35L157.6 479.4H135.6" fill="#ffffff" stroke="#1a2e2e" stroke-width="1.1" stroke-linejoin="miter"/>
<text x="137.7" y="476.6" fill="#000" stroke="#000" stroke-width="0.3" textLength="20.2" lengthAdjust="spacingAndGlyphs">11:00</text>
<path d="M146.5 482.3V467.3H168.5L171.6 473.35L168.5 479.4H146.5" fill="#ffc0cb" stroke="#1a2e2e" stroke-width="1.1" stroke-linejoin="miter"/>
<path d="M150.6 482.3V467.3H172.6L175.7 473.35L172.6 479.4H150.6" fill="#afeeee" stroke="#1a2e2e" stroke-width="1.1" stroke-linejoin="miter"/>
<path d="M154 482.3V467.3H176L179.1 473.35L176 479.4H154" fill="#afeeee" stroke="#1a2e2e" stroke-width="1.1" stroke-linejoin="miter"/>
<text x="156.1" y="476.6" fill="#000" stroke="#000" stroke-width="0.3" textLength="20.2" lengthAdjust="spacingAndGlyphs">16:00</text>
<path d="M212 482.3V467.3H234L237.1 473.35L234 479.4H212" fill="#ffffff" stroke="#1a2e2e" stroke-width="1.1" stroke-linejoin="miter"/>
<path d="M215 482.3V467.3H237L240.1 473.35L237 479.4H215" fill="#ffffff" stroke="#1a2e2e" stroke-width="1.1" stroke-linejoin="miter"/>
<path d="M218 482.3V467.3H240L243.1 473.35L240 479.4H218" fill="#ffc0cb" stroke="#1a2e2e" stroke-width="1.1" stroke-linejoin="miter"/>
<text x="220.1" y="476.6" fill="#000" stroke="#000" stroke-width="0.3" textLength="20.2" lengthAdjust="spacingAndGlyphs">10:30</text>
<path d="M245.3 482.3V467.3H267.3L270.4 473.35L267.3 479.4H245.3" fill="#afeeee" stroke="#1a2e2e" stroke-width="1.1" stroke-linejoin="miter"/>
<text x="247.4" y="476.6" fill="#000" stroke="#000" stroke-width="0.3" textLength="20.2" lengthAdjust="spacingAndGlyphs">17:30</text>
<path d="M300 482.3V467.3H322L325.1 473.35L322 479.4H300" fill="#ffc0cb" stroke="#1a2e2e" stroke-width="1.1" stroke-linejoin="miter"/>
<text x="302.1" y="476.6" fill="#000" stroke="#000" stroke-width="0.3" textLength="8.4" lengthAdjust="spacingAndGlyphs">08</text>
<path d="M279.4 482.3V467.3H301.4L304.5 473.35L301.4 479.4H279.4" fill="#ffffff" stroke="#1a2e2e" stroke-width="1.1" stroke-linejoin="miter"/>
<text x="281.5" y="476.6" fill="#000" stroke="#000" stroke-width="0.3" textLength="20.2" lengthAdjust="spacingAndGlyphs">02:30</text>
<path d="M355.5 482.3V467.3H377.5L380.6 473.35L377.5 479.4H355.5" fill="#ffffff" stroke="#1a2e2e" stroke-width="1.1" stroke-linejoin="miter"/>
<path d="M351.5 482.3V467.3H373.5L376.6 473.35L373.5 479.4H351.5" fill="#ffffff" stroke="#1a2e2e" stroke-width="1.1" stroke-linejoin="miter"/>
<text x="353.6" y="476.6" fill="#000" stroke="#000" stroke-width="0.3" textLength="20.2" lengthAdjust="spacingAndGlyphs">21:00</text>
<path d="M331.3 482.3V467.3H353.3L356.4 473.35L353.3 479.4H331.3" fill="#afeeee" stroke="#1a2e2e" stroke-width="1.1" stroke-linejoin="miter"/>
<text x="333.4" y="476.6" fill="#000" stroke="#000" stroke-width="0.3" textLength="20.2" lengthAdjust="spacingAndGlyphs">16:00</text>
<path d="M313.4 482.3V467.3H335.4L338.5 473.35L335.4 479.4H313.4" fill="#afeeee" stroke="#1a2e2e" stroke-width="1.1" stroke-linejoin="miter"/>
<text x="315.5" y="476.6" fill="#000" stroke="#000" stroke-width="0.3" textLength="20.2" lengthAdjust="spacingAndGlyphs">11:00</text>
<path d="M393.5 482.3V467.3H415.5L418.6 473.35L415.5 479.4H393.5" fill="#ffc0cb" stroke="#1a2e2e" stroke-width="1.1" stroke-linejoin="miter"/>
<path d="M397.5 482.3V467.3H419.5L422.6 473.35L419.5 479.4H397.5" fill="#ffc0cb" stroke="#1a2e2e" stroke-width="1.1" stroke-linejoin="miter"/>
<text x="399.6" y="476.6" fill="#000" stroke="#000" stroke-width="0.3" textLength="20.2" lengthAdjust="spacingAndGlyphs">09:00</text>
<path d="M412.5 482.3V467.3H434.5L437.6 473.35L434.5 479.4H412.5" fill="#afeeee" stroke="#1a2e2e" stroke-width="1.1" stroke-linejoin="miter"/>
<text x="414.6" y="476.6" fill="#000" stroke="#000" stroke-width="0.3" textLength="20.2" lengthAdjust="spacingAndGlyphs">13:30</text>
<path d="M424 482.3V467.3H446L449.1 473.35L446 479.4H424" fill="#afeeee" stroke="#1a2e2e" stroke-width="1.1" stroke-linejoin="miter"/>
<text x="426.1" y="476.6" fill="#000" stroke="#000" stroke-width="0.3" textLength="20.2" lengthAdjust="spacingAndGlyphs">16:00</text>
<path d="M435.6 482.3V467.3H457.6L460.7 473.35L457.6 479.4H435.6" fill="#ffffff" stroke="#1a2e2e" stroke-width="1.1" stroke-linejoin="miter"/>
<path d="M439.4 482.3V467.3H461.4L464.5 473.35L461.4 479.4H439.4" fill="#ffffff" stroke="#1a2e2e" stroke-width="1.1" stroke-linejoin="miter"/>
<text x="441.5" y="476.6" fill="#000" stroke="#000" stroke-width="0.3" textLength="20.2" lengthAdjust="spacingAndGlyphs">20:00</text>
<path d="M446.5 482.3V467.3H468.5L471.6 473.35L468.5 479.4H446.5" fill="#ffffff" stroke="#1a2e2e" stroke-width="1.1" stroke-linejoin="miter"/>
<text x="448.6" y="476.6" fill="#000" stroke="#000" stroke-width="0.3" textLength="20.2" lengthAdjust="spacingAndGlyphs">22:30</text>
<path d="M484.4 482.3V467.3H506.4L509.5 473.35L506.4 479.4H484.4" fill="#ffc0cb" stroke="#1a2e2e" stroke-width="1.1" stroke-linejoin="miter"/>
<path d="M488 482.3V467.3H510L513.1 473.35L510 479.4H488" fill="#afeeee" stroke="#1a2e2e" stroke-width="1.1" stroke-linejoin="miter"/>
<path d="M492.3 482.3V467.3H514.3L517.4 473.35L514.3 479.4H492.3" fill="#ffffff" stroke="#1a2e2e" stroke-width="1.1" stroke-linejoin="miter"/>
<path d="M496.3 482.3V467.3H518.3L521.4 473.35L518.3 479.4H496.3" fill="#afeeee" stroke="#1a2e2e" stroke-width="1.1" stroke-linejoin="miter"/>
<path d="M499.8 482.3V467.3H521.8L524.9 473.35L521.8 479.4H499.8" fill="#afeeee" stroke="#1a2e2e" stroke-width="1.1" stroke-linejoin="miter"/>
<path d="M503.5 482.3V467.3H525.5L528.6 473.35L525.5 479.4H503.5" fill="#ffffff" stroke="#1a2e2e" stroke-width="1.1" stroke-linejoin="miter"/>
<path d="M507.3 482.3V467.3H529.3L532.4 473.35L529.3 479.4H507.3" fill="#ffffff" stroke="#1a2e2e" stroke-width="1.1" stroke-linejoin="miter"/>
<text x="509.4" y="476.6" fill="#000" stroke="#000" stroke-width="0.3" textLength="20.2" lengthAdjust="spacingAndGlyphs">11:00</text>
<path d="M515.3 482.3V467.3H537.3L540.4 473.35L537.3 479.4H515.3" fill="#ffffff" stroke="#1a2e2e" stroke-width="1.1" stroke-linejoin="miter"/>
<path d="M525.3 482.3V467.3H547.3L550.4 473.35L547.3 479.4H525.3" fill="#ffffff" stroke="#1a2e2e" stroke-width="1.1" stroke-linejoin="miter"/>
<path d="M522.2 482.3V467.3H544.2L547.3 473.35L544.2 479.4H522.2" fill="#ffffff" stroke="#1a2e2e" stroke-width="1.1" stroke-linejoin="miter"/>
<path d="M518.5 482.3V467.3H540.5L543.6 473.35L540.5 479.4H518.5" fill="#ffffff" stroke="#1a2e2e" stroke-width="1.1" stroke-linejoin="miter"/>
<text x="520.6" y="476.6" fill="#000" stroke="#000" stroke-width="0.3" textLength="20.2" lengthAdjust="spacingAndGlyphs">17:00</text>
<path d="M553.1 482.3V467.3H575.1L578.2 473.35L575.1 479.4H553.1" fill="#ffffff" stroke="#1a2e2e" stroke-width="1.1" stroke-linejoin="miter"/>
<text x="555.2" y="476.6" fill="#000" stroke="#000" stroke-width="0.3" textLength="20.2" lengthAdjust="spacingAndGlyphs">02:00</text>
<path d="M576 482.3V467.3H598L601.1 473.35L598 479.4H576" fill="#ffffff" stroke="#1a2e2e" stroke-width="1.1" stroke-linejoin="miter"/>
<path d="M579.4 482.3V467.3H601.4L604.5 473.35L601.4 479.4H579.4" fill="#ffffff" stroke="#1a2e2e" stroke-width="1.1" stroke-linejoin="miter"/>
<path d="M583 482.3V467.3H605L608.1 473.35L605 479.4H583" fill="#ffffff" stroke="#1a2e2e" stroke-width="1.1" stroke-linejoin="miter"/>
<path d="M587.5 482.3V467.3H609.5L612.6 473.35L609.5 479.4H587.5" fill="#ffffff" stroke="#1a2e2e" stroke-width="1.1" stroke-linejoin="miter"/>
<path d="M591.3 482.3V467.3H613.3L616.4 473.35L613.3 479.4H591.3" fill="#ffffff" stroke="#1a2e2e" stroke-width="1.1" stroke-linejoin="miter"/>
<text x="593.4" y="476.6" fill="#000" stroke="#000" stroke-width="0.3" textLength="20.2" lengthAdjust="spacingAndGlyphs">11:00</text>
<path d="M598.5 482.3V467.3H620.5L623.6 473.35L620.5 479.4H598.5" fill="#ffffff" stroke="#1a2e2e" stroke-width="1.1" stroke-linejoin="miter"/>
<path d="M602.3 482.3V467.3H624.3L627.4 473.35L624.3 479.4H602.3" fill="#ffffff" stroke="#1a2e2e" stroke-width="1.1" stroke-linejoin="miter"/>
<text x="604.4" y="476.6" fill="#000" stroke="#000" stroke-width="0.3" textLength="20.2" lengthAdjust="spacingAndGlyphs">15:00</text>
<path d="M621.3 482.3V467.3H643.3L646.4 473.35L643.3 479.4H621.3" fill="#ffffff" stroke="#1a2e2e" stroke-width="1.1" stroke-linejoin="miter"/>
<text x="623.4" y="476.6" fill="#000" stroke="#000" stroke-width="0.3" textLength="20.2" lengthAdjust="spacingAndGlyphs">20:00</text>
<path d="M629.4 482.3V467.3H651.4L654.5 473.35L651.4 479.4H629.4" fill="#ffffff" stroke="#1a2e2e" stroke-width="1.1" stroke-linejoin="miter"/>
<text x="631.5" y="476.6" fill="#000" stroke="#000" stroke-width="0.3" textLength="20.2" lengthAdjust="spacingAndGlyphs">02:00</text>
<path d="M640 482.3V467.3H662L665.1 473.35L662 479.4H640" fill="#ffffff" stroke="#1a2e2e" stroke-width="1.1" stroke-linejoin="miter"/>
<text x="642.1" y="476.6" fill="#000" stroke="#000" stroke-width="0.3" textLength="20.2" lengthAdjust="spacingAndGlyphs">02:00</text>
<path d="M663.5 482.3V467.3H685.5L688.6 473.35L685.5 479.4H663.5" fill="#ffc0cb" stroke="#1a2e2e" stroke-width="1.1" stroke-linejoin="miter"/>
<path d="M667.3 482.3V467.3H689.3L692.4 473.35L689.3 479.4H667.3" fill="#ffffff" stroke="#1a2e2e" stroke-width="1.1" stroke-linejoin="miter"/>
<path d="M670.6 482.3V467.3H692.6L695.7 473.35L692.6 479.4H670.6" fill="#ffffff" stroke="#1a2e2e" stroke-width="1.1" stroke-linejoin="miter"/>
<text x="672.7" y="476.6" fill="#000" stroke="#000" stroke-width="0.3" textLength="20.2" lengthAdjust="spacingAndGlyphs">10:30</text>
<path d="M701.3 482.3V467.3H723.3L726.4 473.35L723.3 479.4H701.3" fill="#ffffff" stroke="#1a2e2e" stroke-width="1.1" stroke-linejoin="miter"/>
<text x="703.4" y="476.6" fill="#000" stroke="#000" stroke-width="0.3" textLength="20.2" lengthAdjust="spacingAndGlyphs">18:30</text>
<path d="M731.3 482.3V467.3H753.3L756.4 473.35L753.3 479.4H731.3" fill="#ffffff" stroke="#1a2e2e" stroke-width="1.1" stroke-linejoin="miter"/>
<text x="733.4" y="476.6" fill="#000" stroke="#000" stroke-width="0.3" textLength="20.2" lengthAdjust="spacingAndGlyphs">02:00</text>
<path d="M754.8 482.3V467.3H776.8L779.9 473.35L776.8 479.4H754.8" fill="#ffc0cb" stroke="#1a2e2e" stroke-width="1.1" stroke-linejoin="miter"/>
<path d="M758.5 482.3V467.3H780.5L783.6 473.35L780.5 479.4H758.5" fill="#afeeee" stroke="#1a2e2e" stroke-width="1.1" stroke-linejoin="miter"/>
<path d="M762.3 482.3V467.3H784.3L787.4 473.35L784.3 479.4H762.3" fill="#afeeee" stroke="#1a2e2e" stroke-width="1.1" stroke-linejoin="miter"/>
<path d="M781 482.3V467.3H803L806.1 473.35L803 479.4H781" fill="#ffffff" stroke="#1a2e2e" stroke-width="1.1" stroke-linejoin="miter"/>
<text x="783.1" y="476.6" fill="#000" stroke="#000" stroke-width="0.3" textLength="20.2" lengthAdjust="spacingAndGlyphs">14:00</text>
<path d="M765.6 482.3V467.3H787.6L790.7 473.35L787.6 479.4H765.6" fill="#afeeee" stroke="#1a2e2e" stroke-width="1.1" stroke-linejoin="miter"/>
<text x="767.7" y="476.6" fill="#000" stroke="#000" stroke-width="0.3" textLength="20.2" lengthAdjust="spacingAndGlyphs">11:03</text>
<path d="M800 482.3V467.3H822L825.1 473.35L822 479.4H800" fill="#ffffff" stroke="#1a2e2e" stroke-width="1.1" stroke-linejoin="miter"/>
<text x="802.1" y="476.6" fill="#000" stroke="#000" stroke-width="0.3" textLength="20.2" lengthAdjust="spacingAndGlyphs">20:00</text>
<path d="M845.6 482.3V467.3H867.6L870.7 473.35L867.6 479.4H845.6" fill="#ffffff" stroke="#1a2e2e" stroke-width="1.1" stroke-linejoin="miter"/>
<path d="M848.8 482.3V467.3H870.8L873.9 473.35L870.8 479.4H848.8" fill="#ffffff" stroke="#1a2e2e" stroke-width="1.1" stroke-linejoin="miter"/>
<path d="M850.6 482.3V467.3H872.6L875.7 473.35L872.6 479.4H850.6" fill="#ffffff" stroke="#1a2e2e" stroke-width="1.1" stroke-linejoin="miter"/>
<path d="M853 482.3V467.3H875L878.1 473.35L875 479.4H853" fill="#ffffff" stroke="#1a2e2e" stroke-width="1.1" stroke-linejoin="miter"/>
<path d="M857.5 482.3V467.3H879.5L882.6 473.35L879.5 479.4H857.5" fill="#ffffff" stroke="#1a2e2e" stroke-width="1.1" stroke-linejoin="miter"/>
<text x="859.6" y="476.6" fill="#000" stroke="#000" stroke-width="0.3" textLength="20.2" lengthAdjust="spacingAndGlyphs">11:00</text>
<path d="M864.8 482.3V467.3H886.8L889.9 473.35L886.8 479.4H864.8" fill="#ffffff" stroke="#1a2e2e" stroke-width="1.1" stroke-linejoin="miter"/>
<text x="866.9" y="476.6" fill="#000" stroke="#000" stroke-width="0.3" textLength="20.2" lengthAdjust="spacingAndGlyphs">11:00</text>
<path d="M870.6 482.3V467.3H892.6L895.7 473.35L892.6 479.4H870.6" fill="#ffffff" stroke="#1a2e2e" stroke-width="1.1" stroke-linejoin="miter"/>
<text x="872.7" y="476.6" fill="#000" stroke="#000" stroke-width="0.3" textLength="20.2" lengthAdjust="spacingAndGlyphs">11:00</text>
<path d="M876.3 482.3V467.3H898.3L901.4 473.35L898.3 479.4H876.3" fill="#ffffff" stroke="#1a2e2e" stroke-width="1.1" stroke-linejoin="miter"/>
<text x="878.4" y="476.6" fill="#000" stroke="#000" stroke-width="0.3" textLength="20.2" lengthAdjust="spacingAndGlyphs">11:00</text>
<path d="M881.3 482.3V467.3H903.3L906.4 473.35L903.3 479.4H881.3" fill="#ffffff" stroke="#1a2e2e" stroke-width="1.1" stroke-linejoin="miter"/>
<text x="883.4" y="476.6" fill="#000" stroke="#000" stroke-width="0.3" textLength="20.2" lengthAdjust="spacingAndGlyphs">17:00</text>
<path d="M891.5 482.3V467.3H913.5L916.6 473.35L913.5 479.4H891.5" fill="#ffffff" stroke="#1a2e2e" stroke-width="1.1" stroke-linejoin="miter"/>
<text x="893.6" y="476.6" fill="#000" stroke="#000" stroke-width="0.3" textLength="20.2" lengthAdjust="spacingAndGlyphs">20:00</text>
<path d="M940.6 482.3V467.3H962.6L965.7 473.35L962.6 479.4H940.6" fill="#ffffff" stroke="#1a2e2e" stroke-width="1.1" stroke-linejoin="miter"/>
<path d="M942.3 482.3V467.3H964.3L967.4 473.35L964.3 479.4H942.3" fill="#ffffff" stroke="#1a2e2e" stroke-width="1.1" stroke-linejoin="miter"/>
<path d="M944 482.3V467.3H966L969.1 473.35L966 479.4H944" fill="#ffffff" stroke="#1a2e2e" stroke-width="1.1" stroke-linejoin="miter"/>
<path d="M945 482.3V467.3H967L970.1 473.35L967 479.4H945" fill="#ffffff" stroke="#1a2e2e" stroke-width="1.1" stroke-linejoin="miter"/>
<path d="M948 482.3V467.3H970L973.1 473.35L970 479.4H948" fill="#ffffff" stroke="#1a2e2e" stroke-width="1.1" stroke-linejoin="miter"/>
<text x="950.1" y="476.6" fill="#000" stroke="#000" stroke-width="0.3" textLength="20.2" lengthAdjust="spacingAndGlyphs">11:00</text>
</g>
<g fill="none" stroke="#000" stroke-width="1.1">
<path d="M2.5 2V483.1M2.5 484.3V547.9"/>
<path d="M957.5 2V483.1M957.5 484.3V547.9"/>
<path d="M2 2.5H958"/>
<path d="M2 482.6H958" stroke="#222"/>
<path d="M2 547.35H961"/>
</g>
<path d="M3 483.7H957" stroke="#b4b4b4" stroke-width="0.9"/>
<path d="M2 484.9H961" stroke="#3a3a3a" stroke-width="1.3"/>
<path d="M3 512.3 H21" stroke="#999" stroke-width="0.9" stroke-dasharray="2.6 2.2"/>
<path d="M837.5 512.3 H957" stroke="#c0c0c0" stroke-width="1.1" stroke-dasharray="4 3.5"/>
<g clip-path="url(#cs)" stroke="#555" stroke-width="1.5" stroke-linecap="butt">
<path d="M21.48 507.5V512.3"/>
<path d="M25.28 506.4V512.3"/>
<path d="M29.08 507.5V512.3"/>
<path d="M32.88 508.7V512.3"/>
<path d="M36.67 508.7V512.3"/>
<path d="M40.47 508.7V512.3"/>
<path d="M44.27 508.7V512.3"/>
<path d="M48.06 508.7V512.3"/>
<path d="M51.86 508.7V512.3"/>
<path d="M55.66 508.7V512.3"/>
<path d="M59.46 508.7V512.3"/>
<path d="M63.25 505V512.3"/>
<path d="M67.05 504.2V512.3"/>
<path d="M70.85 503.4V512.3"/>
<path d="M74.64 501.7V512.3"/>
<path d="M78.44 501.7V512.3"/>
<path d="M82.24 502V512.3"/>
<path d="M86.03 502.5V512.3"/>
<path d="M89.83 502.5V512.3"/>
<path d="M93.63 502.5V512.3"/>
<path d="M97.42 503.4V512.3"/>
<path d="M101.22 504.2V512.3"/>
<path d="M105.02 505V512.3"/>
<path d="M108.82 505.9V512.3"/>
<path d="M112.61 506.7V512.3"/>
<path d="M116.41 507.5V512.3"/>
<path d="M120.21 508.4V512.3"/>
<path d="M124 509.2V512.3"/>
<path d="M127.8 510V512.3"/>
<path d="M131.6 512.3V513.2"/>
<path d="M135.4 512.3V513.6"/>
<path d="M139.19 512.3V515"/>
<path d="M142.99 512.3V516.7"/>
<path d="M146.79 512.3V521.7"/>
<path d="M150.58 512.3V527.6"/>
<path d="M154.38 512.3V532.6"/>
<path d="M158.18 512.3V536"/>
<path d="M161.97 512.3V537.6"/>
<path d="M165.77 512.3V539.3"/>
<path d="M169.57 512.3V540.1"/>
<path d="M173.37 512.3V540.4"/>
<path d="M177.16 512.3V540.4"/>
<path d="M180.96 512.3V540.1"/>
<path d="M184.76 512.3V539.8"/>
<path d="M188.55 512.3V538.8"/>
<path d="M192.35 512.3V537.6"/>
<path d="M196.15 512.3V536"/>
<path d="M199.94 512.3V534.8"/>
<path d="M203.74 512.3V533"/>
<path d="M207.54 512.3V531"/>
<path d="M211.34 512.3V529.2"/>
<path d="M215.13 512.3V526.7"/>
<path d="M218.93 512.3V524.7"/>
<path d="M222.73 512.3V523"/>
<path d="M226.52 512.3V520.9"/>
<path d="M230.32 512.3V518.7"/>
<path d="M234.12 512.3V517"/>
<path d="M237.91 512.3V515.9"/>
<path d="M241.71 512.3V514.2"/>
<path d="M245.51 512.3V513.2"/>
<path d="M249.31 509.7V512.3"/>
<path d="M253.1 507.5V512.3"/>
<path d="M256.9 503.4V512.3"/>
<path d="M260.7 500V512.3"/>
<path d="M264.49 496.7V512.3"/>
<path d="M268.29 494.2V512.3"/>
<path d="M272.09 492.5V512.3"/>
<path d="M275.88 492.5V512.3"/>
<path d="M279.68 493.4V512.3"/>
<path d="M283.48 494.2V512.3"/>
<path d="M287.28 495.9V512.3"/>
<path d="M291.07 496.7V512.3"/>
<path d="M294.87 497.5V512.3"/>
<path d="M298.67 498.4V512.3"/>
<path d="M302.46 498.7V512.3"/>
<path d="M306.26 498.7V512.3"/>
<path d="M310.06 499.2V512.3"/>
<path d="M313.85 500.9V512.3"/>
<path d="M317.65 503.4V512.3"/>
<path d="M321.45 504.7V512.3"/>
<path d="M325.25 504.7V512.3"/>
<path d="M329.04 504.2V512.3"/>
<path d="M332.84 504.2V512.3"/>
<path d="M336.64 503.7V512.3"/>
<path d="M340.43 503.4V512.3"/>
<path d="M344.23 502.5V512.3"/>
<path d="M348.03 501.4V512.3"/>
<path d="M351.82 500.4V512.3"/>
<path d="M355.62 499.7V512.3"/>
<path d="M359.42 498.4V512.3"/>
<path d="M363.22 497.5V512.3"/>
<path d="M367.01 498.4V512.3"/>
<path d="M370.81 499.7V512.3"/>
<path d="M374.61 500V512.3"/>
<path d="M378.4 501.7V512.3"/>
<path d="M382.2 504.2V512.3"/>
<path d="M386 505V512.3"/>
<path d="M389.79 506.7V512.3"/>
<path d="M393.59 506.7V512.3"/>
<path d="M397.39 505.9V512.3"/>
<path d="M401.19 505.9V512.3"/>
<path d="M404.98 505.9V512.3"/>
<path d="M408.78 505.9V512.3"/>
<path d="M412.58 506.7V512.3"/>
<path d="M416.37 505.9V512.3"/>
<path d="M420.17 505V512.3"/>
<path d="M423.97 503.4V512.3"/>
<path d="M427.76 502.5V512.3"/>
<path d="M431.56 502.5V512.3"/>
<path d="M435.36 503.4V512.3"/>
<path d="M439.16 499.7V512.3"/>
<path d="M442.95 496.7V512.3"/>
<path d="M446.75 495V512.3"/>
<path d="M450.55 494.2V512.3"/>
<path d="M454.34 492.5V512.3"/>
<path d="M458.14 492V512.3"/>
<path d="M461.94 492V512.3"/>
<path d="M465.73 492V512.3"/>
<path d="M469.53 492.5V512.3"/>
<path d="M473.33 492V512.3"/>
<path d="M477.12 492V512.3"/>
<path d="M480.92 492V512.3"/>
<path d="M484.72 491.4V512.3"/>
<path d="M488.52 490.4V512.3"/>
<path d="M492.31 490.9V512.3"/>
<path d="M496.11 491.4V512.3"/>
<path d="M499.91 492V512.3"/>
<path d="M503.7 492.5V512.3"/>
<path d="M507.5 494.7V512.3"/>
<path d="M511.3 497.5V512.3"/>
<path d="M515.1 500.9V512.3"/>
<path d="M518.89 505V512.3"/>
<path d="M522.69 508.4V512.3"/>
<path d="M526.49 511.4V512.3"/>
<path d="M530.28 512.3V513.2"/>
<path d="M534.08 512.3V514.2"/>
<path d="M537.88 512.3V515.4"/>
<path d="M541.67 512.3V516.4"/>
<path d="M545.47 512.3V517"/>
<path d="M549.27 512.3V517"/>
<path d="M553.07 512.3V517"/>
<path d="M556.86 512.3V515.9"/>
<path d="M560.66 512.3V515.9"/>
<path d="M564.46 512.3V515.4"/>
<path d="M568.25 512.3V515"/>
<path d="M572.05 512.3V514.7"/>
<path d="M575.85 512.3V515.4"/>
<path d="M579.64 512.3V516.4"/>
<path d="M583.44 512.3V518"/>
<path d="M587.24 512.3V518.7"/>
<path d="M591.03 512.3V519.2"/>
<path d="M594.83 512.3V520.9"/>
<path d="M598.63 512.3V523"/>
<path d="M602.43 512.3V524.7"/>
<path d="M606.22 512.3V525.4"/>
<path d="M610.02 512.3V526.4"/>
<path d="M613.82 512.3V526.7"/>
<path d="M617.61 512.3V527"/>
<path d="M621.41 512.3V528.4"/>
<path d="M625.21 512.3V528.4"/>
<path d="M629 512.3V528.4"/>
<path d="M632.8 512.3V529.2"/>
<path d="M636.6 512.3V524.7"/>
<path d="M640.4 512.3V523.7"/>
<path d="M644.19 512.3V520"/>
<path d="M647.99 512.3V516.4"/>
<path d="M651.79 512.3V513.4"/>
<path d="M655.58 512.3V513.2"/>
<path d="M659.38 512.3V513.2"/>
<path d="M663.18 511.4V512.3"/>
<path d="M666.98 511.4V512.3"/>
<path d="M670.77 511.4V512.3"/>
<path d="M674.57 510.9V512.3"/>
<path d="M678.37 510V512.3"/>
<path d="M682.16 508.4V512.3"/>
<path d="M685.96 508V512.3"/>
<path d="M689.76 507.5V512.3"/>
<path d="M693.55 508V512.3"/>
<path d="M697.35 508V512.3"/>
<path d="M701.15 508.4V512.3"/>
<path d="M704.95 508.7V512.3"/>
<path d="M708.74 508.7V512.3"/>
<path d="M712.54 508V512.3"/>
<path d="M716.34 504.7V512.3"/>
<path d="M720.13 501.4V512.3"/>
<path d="M723.93 500V512.3"/>
<path d="M727.73 499.7V512.3"/>
<path d="M731.52 499.7V512.3"/>
<path d="M735.32 499.7V512.3"/>
<path d="M739.12 500V512.3"/>
<path d="M742.92 500V512.3"/>
<path d="M746.71 500.4V512.3"/>
<path d="M750.51 501.4V512.3"/>
<path d="M754.31 502.5V512.3"/>
<path d="M758.1 504.7V512.3"/>
<path d="M761.9 507.5V512.3"/>
<path d="M765.7 510.9V512.3"/>
<path d="M769.49 512.3V513.4"/>
<path d="M773.29 512.3V515.9"/>
<path d="M777.09 512.3V517.6"/>
<path d="M780.88 512.3V518.4"/>
<path d="M784.68 512.3V518.7"/>
<path d="M788.48 512.3V519.2"/>
<path d="M792.28 512.3V518.7"/>
<path d="M796.07 512.3V518.7"/>
<path d="M799.87 512.3V519.2"/>
<path d="M803.67 512.3V519.2"/>
<path d="M807.46 512.3V519.7"/>
<path d="M811.26 512.3V519.7"/>
<path d="M815.06 512.3V520"/>
<path d="M818.86 512.3V520.4"/>
<path d="M822.65 512.3V520.4"/>
<path d="M826.45 512.3V520.9"/>
<path d="M830.25 512.3V520.9"/>
<path d="M834.04 512.3V520.9"/>
</g>
<path clip-path="url(#cs)" d="M3.3 518 L16.7 514.7 L33.4 510 L46.7 507.5 L66.8 506.7 L80 504.7 L96.8 502.2 L106.8 502.5 L123.5 505.4 L133.6 509.2 L147 513.4 L150 514.2 L158.3 522.6 L166.7 530 L175 536 L183.4 539.3 L191.7 540.4 L200 540.4 L208.4 538.4 L216.8 535 L225 531.8 L233.5 526.7 L241.8 522.6 L250 517.6 L258.5 512.6 L266.9 506.7 L275 500.9 L283.6 496.7 L292 495.4 L300 496.2 L306.7 496.4 L313.4 498.4 L321.7 501.4 L333.4 503 L341.7 504.7 L350 504.2 L358.4 503 L366.8 500.9 L375 500 L383.5 500.9 L393.5 503.4 L403.5 505.4 L413.5 506.4 L423.5 505.9 L433.6 505 L438.6 504.7 L447 501.7 L450 500.9 L458.3 497.5 L466.7 494.7 L475 493 L483.4 492.4 L496.7 492.4 L506.8 492.4 L516.8 494.7 L525 498.7 L533.5 503.4 L540 508 L546.8 512.6 L553.5 515.4 L563.5 517 L576.9 517 L590 517 L596.9 519.2 L607 522 L616.7 525 L625 527 L633.4 528 L641.7 527.6 L650 525 L658.4 520.9 L666.8 516.7 L675 512.6 L683.5 510.4 L693.5 509.7 L703.5 509.2 L716.9 508.4 L723.5 506.4 L733.6 503.7 L742 501.4 L750.3 499.8 L758.3 500.7 L766.7 503.4 L775 507.5 L783.4 511.7 L791.7 515.9 L800 519.2 L806.8 520.4 L816.8 520.9 L833.5 520.9" fill="none" stroke="#ff0000" stroke-width="1.15" stroke-linejoin="round"/>
<g stroke="#000" stroke-width="1.1">
<path d="M958 18.1H961"/>
<path d="M958 49.1H961"/>
<path d="M958 80.2H961"/>
<path d="M958 111.3H961"/>
<path d="M958 142.3H961"/>
<path d="M958 173.4H961"/>
<path d="M958 204.5H961"/>
<path d="M958 235.5H961"/>
<path d="M958 266.6H961"/>
<path d="M958 297.7H961"/>
<path d="M958 328.7H961"/>
<path d="M958 359.8H961"/>
<path d="M958 390.9H961"/>
<path d="M958 421.9H961"/>
<path d="M958 453H961"/>
</g>
<g font-size="8.3" fill="#000" stroke="#000" stroke-width="0.3">
<text x="963.7" y="21.25" textLength="24.8" lengthAdjust="spacingAndGlyphs">1.2790</text>
<text x="963.7" y="52.25" textLength="24.8" lengthAdjust="spacingAndGlyphs">1.2770</text>
<text x="963.7" y="83.35" textLength="24.8" lengthAdjust="spacingAndGlyphs">1.2750</text>
<text x="963.7" y="114.45" textLength="24.8" lengthAdjust="spacingAndGlyphs">1.2730</text>
<text x="963.7" y="145.45" textLength="24.8" lengthAdjust="spacingAndGlyphs">1.2710</text>
<text x="963.7" y="176.55" textLength="24.8" lengthAdjust="spacingAndGlyphs">1.2690</text>
<text x="963.7" y="207.65" textLength="24.8" lengthAdjust="spacingAndGlyphs">1.2670</text>
<text x="963.7" y="238.65" textLength="24.8" lengthAdjust="spacingAndGlyphs">1.2650</text>
<text x="963.7" y="269.75" textLength="24.8" lengthAdjust="spacingAndGlyphs">1.2630</text>
<text x="963.7" y="300.85" textLength="24.8" lengthAdjust="spacingAndGlyphs">1.2610</text>
<text x="963.7" y="331.85" textLength="24.8" lengthAdjust="spacingAndGlyphs">1.2590</text>
<text x="963.7" y="362.95" textLength="24.8" lengthAdjust="spacingAndGlyphs">1.2570</text>
<text x="963.7" y="394.05" textLength="24.8" lengthAdjust="spacingAndGlyphs">1.2550</text>
<text x="963.7" y="425.05" textLength="24.8" lengthAdjust="spacingAndGlyphs">1.2530</text>
<text x="963.7" y="456.15" textLength="24.8" lengthAdjust="spacingAndGlyphs">1.2510</text>
</g>
<rect x="960" y="243.8" width="31" height="10.6" fill="#c0c0c0"/>
<text x="963.7" y="252.1" font-size="8.3" fill="#fff" textLength="24.5" lengthAdjust="spacingAndGlyphs">1.2641</text>
<rect x="960" y="9.3" width="31" height="10.6" fill="#ff0000"/>
<text x="963.7" y="17.6" font-size="8.3" fill="#fff" stroke="#fff" stroke-width="0.15" textLength="24.5" lengthAdjust="spacingAndGlyphs">1.2792</text>
<rect x="960" y="49.2" width="31" height="10.6" fill="#ff0000"/>
<text x="963.7" y="57.5" font-size="8.3" fill="#fff" stroke="#fff" stroke-width="0.15" textLength="24.5" lengthAdjust="spacingAndGlyphs">1.2766</text>
<rect x="960" y="108.3" width="31" height="10.6" fill="#ff0000"/>
<text x="963.7" y="116.6" font-size="8.3" fill="#fff" stroke="#fff" stroke-width="0.15" textLength="24.5" lengthAdjust="spacingAndGlyphs">1.2728</text>
<rect x="960" y="184.2" width="31" height="10.6" fill="#ff0000"/>
<text x="963.7" y="192.5" font-size="8.3" fill="#fff" stroke="#fff" stroke-width="0.15" textLength="24.5" lengthAdjust="spacingAndGlyphs">1.2679</text>
<rect x="960" y="298.1" width="31" height="10.6" fill="#ff0000"/>
<text x="963.7" y="306.4" font-size="8.3" fill="#fff" stroke="#fff" stroke-width="0.15" textLength="24.5" lengthAdjust="spacingAndGlyphs">1.2606</text>
<rect x="960" y="332.3" width="31" height="10.6" fill="#ff0000"/>
<text x="963.7" y="340.6" font-size="8.3" fill="#fff" stroke="#fff" stroke-width="0.15" textLength="24.5" lengthAdjust="spacingAndGlyphs">1.2584</text>
<rect x="960" y="395.2" width="31" height="10.6" fill="#ff0000"/>
<text x="963.7" y="403.5" font-size="8.3" fill="#fff" stroke="#fff" stroke-width="0.15" textLength="24.5" lengthAdjust="spacingAndGlyphs">1.2543</text>
<rect x="960" y="460.4" width="31" height="10.6" fill="#ff0000"/>
<text x="963.7" y="468.7" font-size="8.3" fill="#fff" stroke="#fff" stroke-width="0.15" textLength="24.5" lengthAdjust="spacingAndGlyphs">1.2501</text>
<text x="963.2" y="493.1" font-size="8.3" fill="#000" stroke="#000" stroke-width="0.3" textLength="27" lengthAdjust="spacingAndGlyphs">0.00340</text>
<text x="963.2" y="515.5" font-size="8.3" fill="#000" stroke="#000" stroke-width="0.3" textLength="26.5" lengthAdjust="spacingAndGlyphs">0.00000</text>
<text x="963.1" y="545.1" font-size="8.3" fill="#000" stroke="#000" stroke-width="0.3" textLength="30" lengthAdjust="spacingAndGlyphs">-0.00453</text>
<path d="M958 485.2H961M958 512.3H961" stroke="#000" stroke-width="1"/>
<g stroke="#000" stroke-width="1.1">
<path d="M2.5 547V550.5"/>
<path d="M63.25 547V550.5"/>
<path d="M124 547V550.5"/>
<path d="M184.76 547V550.5"/>
<path d="M245.51 547V550.5"/>
<path d="M306.26 547V550.5"/>
<path d="M367.01 547V550.5"/>
<path d="M427.76 547V550.5"/>
<path d="M488.52 547V550.5"/>
<path d="M549.27 547V550.5"/>
<path d="M610.02 547V550.5"/>
<path d="M670.77 547V550.5"/>
<path d="M731.52 547V550.5"/>
<path d="M792.28 547V550.5"/>
</g>
<g font-size="8.2" fill="#000" stroke="#000" stroke-width="0.3">
<text x="2.55" y="559.3" textLength="38.83" lengthAdjust="spacingAndGlyphs">2 Oct 2014</text>
<text x="63.3" y="559.3" textLength="41.04" lengthAdjust="spacingAndGlyphs">2 Oct 16:00</text>
<text x="124.05" y="559.3" textLength="41.04" lengthAdjust="spacingAndGlyphs">3 Oct 08:00</text>
<text x="184.81" y="559.3" textLength="41.04" lengthAdjust="spacingAndGlyphs">6 Oct 01:00</text>
<text x="245.56" y="559.3" textLength="41.04" lengthAdjust="spacingAndGlyphs">6 Oct 17:00</text>
<text x="306.31" y="559.3" textLength="41.04" lengthAdjust="spacingAndGlyphs">7 Oct 09:00</text>
<text x="367.06" y="559.3" textLength="41.04" lengthAdjust="spacingAndGlyphs">8 Oct 01:00</text>
<text x="427.81" y="559.3" textLength="41.04" lengthAdjust="spacingAndGlyphs">8 Oct 17:00</text>
<text x="488.57" y="559.3" textLength="41.04" lengthAdjust="spacingAndGlyphs">9 Oct 09:00</text>
<text x="549.32" y="559.3" textLength="45.45" lengthAdjust="spacingAndGlyphs">10 Oct 01:00</text>
<text x="610.07" y="559.3" textLength="45.45" lengthAdjust="spacingAndGlyphs">10 Oct 17:00</text>
<text x="670.82" y="559.3" textLength="45.45" lengthAdjust="spacingAndGlyphs">13 Oct 10:00</text>
<text x="731.57" y="559.3" textLength="45.45" lengthAdjust="spacingAndGlyphs">14 Oct 02:00</text>
<text x="792.33" y="559.3" textLength="45.45" lengthAdjust="spacingAndGlyphs">14 Oct 18:00</text>
</g>
<text x="7" y="12.3" font-size="7.9" fill="#000" stroke="#000" stroke-width="0.35">EURUSD,H1</text>
<text x="6.3" y="496.4" font-size="8.1" fill="#000" stroke="#000" stroke-width="0.3" textLength="124.6" lengthAdjust="spacingAndGlyphs">MACD(12,26,9) -0.00123 -0.00117</text>
<text x="5.5" y="542.4" font-size="8.2" fill="#000" stroke="#000" stroke-width="0.3" style="letter-spacing:0.25px">MetaTrader 5, © 2001-2014, MetaQuotes Software Corp.</text>
</g></svg></body></html>
